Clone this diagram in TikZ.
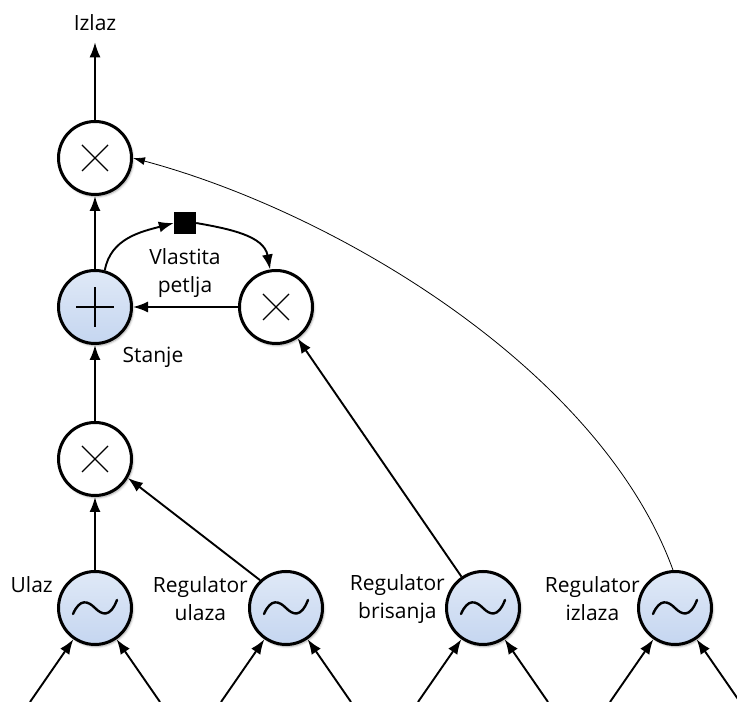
\documentclass[tikz,border=0pt]{standalone}
\usepackage{fontspec}
\setmainfont{Open Sans}
\usetikzlibrary{arrows.meta,shadows.blur}

\definecolor{cellblue}{RGB}{197,214,240}

\tikzset{
  cell/.style={circle, draw, line width=3pt, minimum size=73pt, inner sep=0pt, fill=white,
    blur shadow={shadow xshift=1.5pt, shadow yshift=-2pt, shadow blur steps=6, shadow opacity=35}},
  gate/.style={cell, path picture={
    \draw[line width=1.4pt, shift={(path picture bounding box.center)}]
      (-13pt,-13pt) -- (13pt,13pt) (-13pt,13pt) -- (13pt,-13pt);}},
  sum/.style={cell, top color=cellblue!55!white, bottom color=cellblue, path picture={
    \draw[line width=1.6pt, shift={(path picture bounding box.center)}]
      (-19pt,0pt) -- (19pt,0pt) (0pt,-20pt) -- (0pt,20pt);}},
  noise/.style={cell, top color=cellblue!55!white, bottom color=cellblue, path picture={
    \draw[line width=2.4pt, line cap=round, shift={(path picture bounding box.center)}]
      (-22pt,-6pt) .. controls (-15pt,10pt) and (-7pt,7pt) .. (0pt,0pt)
      .. controls (7pt,-7pt) and (15pt,-10pt) .. (22pt,8pt);}},
  lbl/.style={font=\fontsize{21}{28}\selectfont, align=center, inner sep=0pt},
  conn/.style={line width=1.9pt, -{Latex[length=15pt,width=11pt]}},
  feed/.style={line width=0.8pt, -{Latex[length=12pt,width=8pt]}}
}

\begin{document}
\begin{tikzpicture}[x=1pt,y=1pt]
\useasboundingbox (0,0) rectangle (737,702);

% cell
\node[gate] (ox) at (95,544) {};
\node[sum] (st) at (95,395) {};
\node[gate] (mxl) at (276,395) {};
\node[gate] (mx) at (95,243) {};
\node[fill=black, minimum size=22pt, inner sep=0pt] (sq) at (185,479) {};

% inputs
\node[noise] (ul) at (95,94) {};
\node[noise] (ru) at (286,94) {};
\node[noise] (rb) at (483,94) {};
\node[noise] (ri) at (675,94) {};

% texts
\node[lbl] (izl) at (95,679) {Izlaz};
\node[lbl] (vp) at (185,429) {Vlastita\\petlja};
\node[lbl] (stl) at (153,345) {Stanje};
\node[lbl, anchor=east] (ull) at ([xshift=-4pt,yshift=23pt]ul.west) {Ulaz};
\node[lbl, anchor=east] (rul) at ([yshift=9pt]ru.west) {Regulator\\ulaza};
\node[lbl, anchor=east] (rbl) at ([yshift=9pt]rb.west) {Regulator\\brisanja};
\node[lbl, anchor=east] (ril) at ([xshift=3pt,yshift=9pt]ri.west) {Regulator\\izlaza};

% connections
\draw[conn, shorten >=11pt] (ox) -- (izl);
\draw[conn] (st) -- (ox);
\draw[conn] (mx) -- (st);
\draw[conn] (mxl) -- (st);
\draw[conn] (st.75) to[out=80,in=195] (sq.west);
\draw[conn] (sq.east) to[out=-10,in=100] (mxl.99);
\draw[conn] (ul) -- (mx);
\draw[conn] (ru.133) -- (mx.-30);
\draw[conn] (rb) -- (mxl);
\draw[feed] (ri.93) to[out=110,in=-15,looseness=0.8] (ox.east);

% inputs from below
\coordinate (ul-a) at (30,0);
\coordinate (ul-b) at (160,0);
\coordinate (ru-a) at (221,0);
\coordinate (ru-b) at (351,0);
\coordinate (rb-a) at (418,0);
\coordinate (rb-b) at (548,0);
\coordinate (ri-a) at (610,0);
\coordinate (ri-b) at (740,0);
\draw[conn] (ul-a) -- (ul);
\draw[conn] (ul-b) -- (ul);
\draw[conn] (ru-a) -- (ru);
\draw[conn] (ru-b) -- (ru);
\draw[conn] (rb-a) -- (rb);
\draw[conn] (rb-b) -- (rb);
\draw[conn] (ri-a) -- (ri);
\draw[conn] (ri-b) -- (ri);
\end{tikzpicture}
\end{document}
